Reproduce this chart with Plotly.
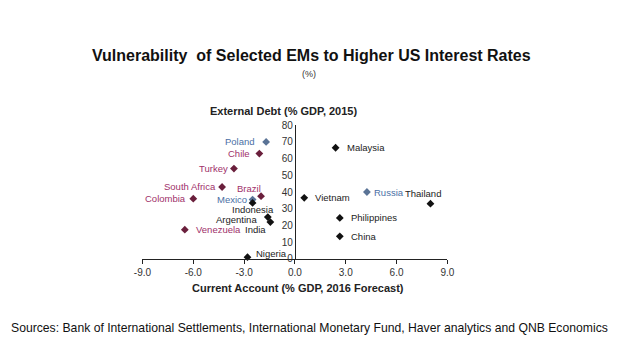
import plotly.graph_objects as go

# Data
countries = ["Poland", "Chile", "Turkey", "South Africa", "Brazil", "Colombia",
             "Mexico", "Indonesia", "Argentina", "India", "Venezuela", "Nigeria",
             "Vietnam", "Malaysia", "Russia", "Thailand", "Philippines", "China"]
current_account = [-1.7, -2.1, -3.6, -4.3, -2.0, -6.0,
                   -2.5, -2.5, -1.6, -1.45, -6.5, -2.8,
                   0.55, 2.4, 4.25, 8.0, 2.65, 2.65]
external_debt = [70, 63, 54, 43, 37.5, 36,
                 35.5, 33.5, 25, 22, 17.5, 1,
                 36.5, 66.5, 40, 33, 24.5, 13.5]
groups = ["blue", "red", "red", "red", "red", "red",
          "blue", "black", "black", "black", "red", "black",
          "black", "black", "blue", "black", "black", "black"]

x_ticks = [-9, -6, -3, 0, 3, 6, 9]
x_tick_labels = ["-9.0", "-6.0", "-3.0", "0.0", "3.0", "6.0", "9.0"]
y_ticks = [0, 10, 20, 30, 40, 50, 60, 70, 80]

# Styles
label_colors = {"blue": "#4a6fa5", "red": "#a0306a", "black": "#222222"}
marker_colors = {"blue": "#5a7396", "red": "#6a1f3c", "black": "#111111"}
# label placement: (xanchor, xshift, yshift)
placement = {
    "Poland": ("right", -9, 0), "Chile": ("right", -7, 0), "Turkey": ("right", -4, 0),
    "South Africa": ("right", -4, 1), "Brazil": ("right", 2, 8), "Colombia": ("right", -5, 0),
    "Mexico": ("right", -4, 0), "Indonesia": ("center", 0, -7), "Argentina": ("right", -9, -2),
    "India": ("right", -2, -7), "Venezuela": ("left", 9, 0), "Nigeria": ("left", 7, 4),
    "Vietnam": ("left", 9, 0), "Malaysia": ("left", 9, 0), "Russia": ("left", 5, 0),
    "Thailand": ("center", -7, 10), "Philippines": ("left", 9, 0), "China": ("left", 9, 0),
}

W, H = 620, 355
xd = [137 / W, 450 / W]
yd = [(H - 262) / H, (H - 124) / H]

fig = go.Figure()
fig.add_trace(go.Scatter(
    x=current_account, y=external_debt, mode="markers",
    marker=dict(symbol="diamond", size=6, color=[marker_colors[g] for g in groups]),
    cliponaxis=False, hoverinfo="text", text=countries,
))

FONT = "Arial, Liberation Sans, sans-serif"
annotations = []
for c, xv, yv, g in zip(countries, current_account, external_debt, groups):
    xa, xs, ys = placement[c]
    annotations.append(dict(x=xv, y=yv, xref="x", yref="y", text=c, showarrow=False,
                            xanchor=xa, yanchor="middle", xshift=xs, yshift=ys,
                            font=dict(family=FONT, size=9.5, color=label_colors[g])))

annotations += [
    dict(x=310 / W, y=1 - 52 / H, xref="paper", yref="paper", showarrow=False,
         text="<b>Vulnerability  of Selected EMs to Higher US Interest Rates</b>",
         font=dict(family=FONT, size=16, color="#111111"),
         xanchor="center", yanchor="middle"),
    dict(x=308 / W, y=1 - 71 / H, xref="paper", yref="paper", showarrow=False,
         text="(%)", font=dict(family=FONT, size=9, color="#333333"),
         xanchor="center", yanchor="middle"),
    dict(x=282 / W, y=1 - 109 / H, xref="paper", yref="paper", showarrow=False,
         text="<b>External Debt (% GDP, 2015)</b>",
         font=dict(family=FONT, size=11, color="#222222"),
         xanchor="center", yanchor="middle"),
    dict(x=297 / W, y=1 - 292 / H, xref="paper", yref="paper", showarrow=False,
         text="<b>Current Account (% GDP, 2016 Forecast)</b>",
         font=dict(family=FONT, size=11, color="#222222"),
         xanchor="center", yanchor="middle"),
    dict(x=308 / W, y=1 - 333 / H, xref="paper", yref="paper", showarrow=False,
         text="Sources: Bank of International Settlements, International Monetary Fund, Haver analytics and QNB Economics",
         font=dict(family=FONT, size=12.2, color="#111111"),
         xanchor="center", yanchor="middle"),
]

fig.update_layout(
    width=W, height=H, margin=dict(l=0, r=0, t=0, b=0),
    paper_bgcolor="white", plot_bgcolor="white", showlegend=False,
    annotations=annotations,
    xaxis=dict(domain=xd, range=[-9, 9], tickvals=x_ticks, ticktext=x_tick_labels,
               showgrid=False, zeroline=False, showline=True, linecolor="#222222", linewidth=1,
               ticks="outside", ticklen=4, tickcolor="#222222",
               tickfont=dict(family=FONT, size=10, color="#333333"),
               anchor="y"),
    yaxis=dict(domain=yd, range=[0, 80], tickvals=y_ticks,
               showgrid=False, zeroline=False, showline=True, linecolor="#222222", linewidth=1,
               ticks="", anchor="free", position=(xd[0] + xd[1]) / 2,
               tickfont=dict(family=FONT, size=10, color="#333333")),
)

fig.write_html("out.html", config={"displayModeBar": False},
               post_script="document.body.style.margin='0';document.body.style.padding='0';")
